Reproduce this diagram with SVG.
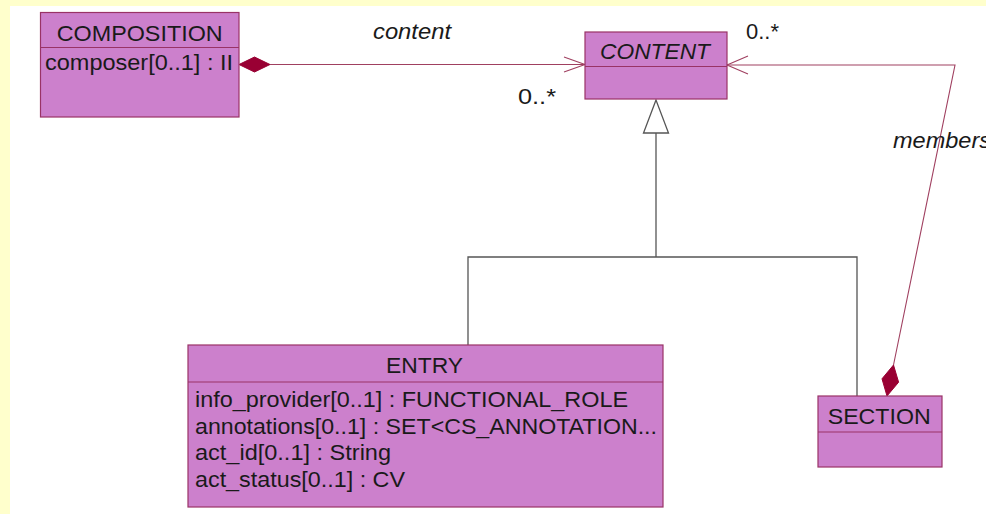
<svg xmlns="http://www.w3.org/2000/svg" width="986" height="514" viewBox="0 0 986 514">
  <style>
    .box { fill: #CC80CC; stroke: #993366; stroke-width: 1.2; }
    .div { stroke: #993366; stroke-width: 1.2; }
    .t { font-family: "Liberation Sans", Arial, sans-serif; font-size: 22px; fill: #1a1a1a; }
    .it { font-style: italic; }
    .assoc { fill: none; stroke: #A04060; stroke-width: 1.1; }
    .gen { fill: none; stroke: #555555; stroke-width: 1.3; }
    .dia { fill: #990033; stroke: #990033; stroke-width: 1; }
  </style>
  <rect x="0" y="0" width="986" height="514" fill="#FFFFCC"/>
  <rect x="10" y="6" width="976" height="508" fill="#FFFFFF"/>

  <g id="connectors">
    <!-- composition -> content -->
    <line class="assoc" x1="270" y1="64.5" x2="585" y2="64.5"/>
    <polyline class="assoc" points="564,57 585,64.5 564,72"/>
    <polygon class="dia" points="239,64.5 254.5,57 270,64.5 254.5,72"/>
    <!-- section members -> content -->
    <polyline class="assoc" points="727,65 955,65 893.5,365"/>
    <polyline class="assoc" points="748,56 727,65 748,74"/>
    <polygon class="dia" points="887,396 898.6,382.2 893.5,365 882,378.8"/>
    <!-- generalization -->
    <line class="gen" x1="656" y1="133" x2="656" y2="257"/>
    <polyline class="gen" points="468,345 468,257 857,257 857,396"/>
    <polygon class="gen" fill="#FFFFFF" style="fill:#FFFFFF" points="656,100 643.5,133 668.5,133"/>
    <text class="t it" x="373" y="39" textLength="78" lengthAdjust="spacingAndGlyphs">content</text>
    <text class="t" x="518" y="104" textLength="38" lengthAdjust="spacingAndGlyphs">0..*</text>
    <text class="t" x="746" y="39" textLength="33" lengthAdjust="spacingAndGlyphs">0..*</text>
    <text class="t it" x="893" y="147.5" textLength="98" lengthAdjust="spacingAndGlyphs">members</text>
  </g>

  <g id="composition">
    <rect class="box" x="40.5" y="12.5" width="198.5" height="104.5"/>
    <line class="div" x1="40.5" y1="47.5" x2="239" y2="47.5"/>
    <text class="t" x="56.7" y="40.7" textLength="166" lengthAdjust="spacingAndGlyphs">COMPOSITION</text>
    <text class="t" x="45" y="70" textLength="188" lengthAdjust="spacingAndGlyphs">composer[0..1] : II</text>
  </g>

  <g id="content">
    <rect class="box" x="585" y="32" width="142" height="67"/>
    <line class="div" x1="585" y1="66.5" x2="727" y2="66.5"/>
    <text class="t it" x="600" y="59.3" textLength="110" lengthAdjust="spacingAndGlyphs">CONTENT</text>
  </g>

  <g id="entry">
    <rect class="box" x="188" y="345" width="475" height="162"/>
    <line class="div" x1="188" y1="382" x2="663" y2="382"/>
    <text class="t" x="386" y="373" textLength="77" lengthAdjust="spacingAndGlyphs">ENTRY</text>
    <text class="t" x="195" y="406.5" textLength="433" lengthAdjust="spacingAndGlyphs">info_provider[0..1] : FUNCTIONAL_ROLE</text>
    <text class="t" x="195" y="434" textLength="462" lengthAdjust="spacingAndGlyphs">annotations[0..1] : SET&lt;CS_ANNOTATION...</text>
    <text class="t" x="195" y="460" textLength="196" lengthAdjust="spacingAndGlyphs">act_id[0..1] : String</text>
    <text class="t" x="195" y="487" textLength="210" lengthAdjust="spacingAndGlyphs">act_status[0..1] : CV</text>
  </g>

  <g id="section">
    <rect class="box" x="818" y="396" width="124" height="71"/>
    <line class="div" x1="818" y1="432" x2="942" y2="432"/>
    <text class="t" x="827.7" y="424" textLength="103" lengthAdjust="spacingAndGlyphs">SECTION</text>
  </g>
</svg>
